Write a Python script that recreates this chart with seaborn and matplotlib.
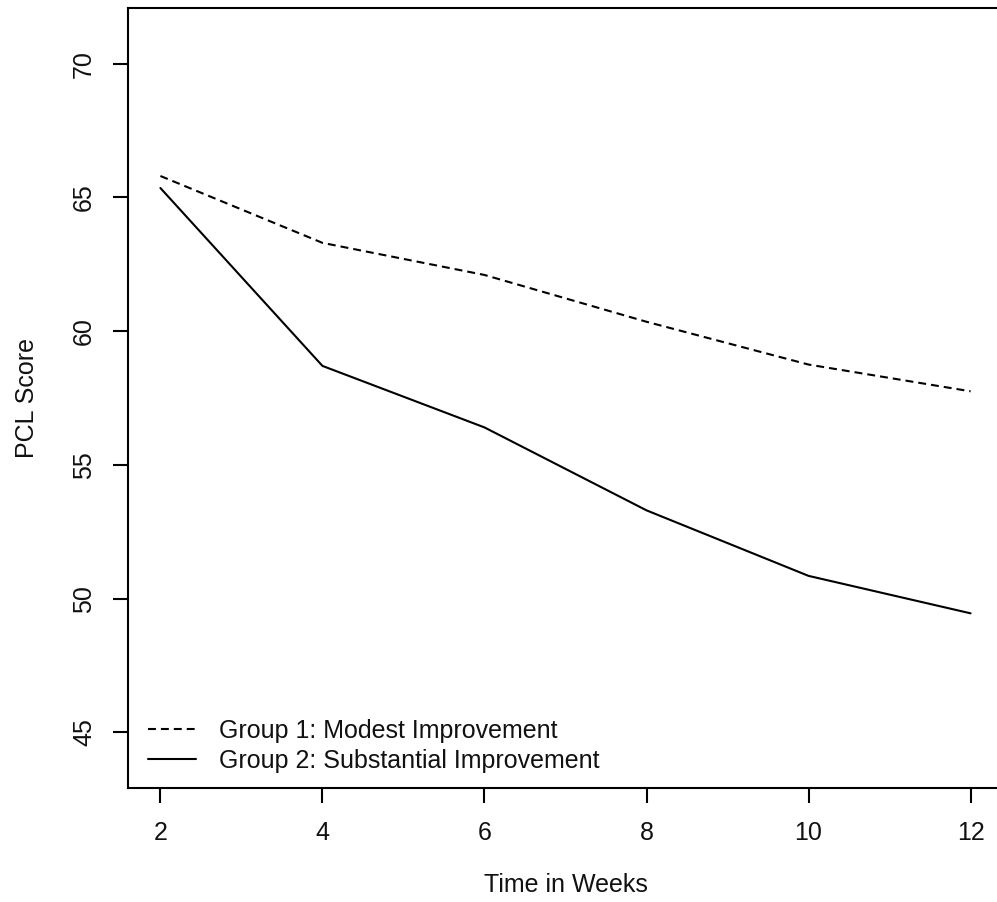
import matplotlib.pyplot as plt
import pandas as pd
import seaborn as sns

weeks = [2, 4, 6, 8, 10, 12]
group1 = [65.8, 63.3, 62.1, 60.35, 58.75, 57.75]
group2 = [65.35, 58.7, 56.4, 53.3, 50.85, 49.45]
labels = ["Group 1: Modest Improvement", "Group 2: Substantial Improvement"]

sns.set_style("white")
plt.rcParams["font.family"] = ["Liberation Sans", "DejaVu Sans"]
plt.rcParams["font.size"] = 18
plt.rcParams["text.color"] = "#111111"
plt.rcParams["axes.labelcolor"] = "#111111"
plt.rcParams["xtick.color"] = "#111111"
plt.rcParams["ytick.color"] = "#111111"

df = pd.concat([
    pd.DataFrame({"week": weeks, "score": group1, "group": labels[0]}),
    pd.DataFrame({"week": weeks, "score": group2, "group": labels[1]}),
])

fig = plt.figure(figsize=(9.97, 9.02), dpi=100)
ax = fig.add_axes([128 / 997, 114 / 902, 875 / 997, 780 / 902])

sns.lineplot(data=df, x="week", y="score", style="group", color="black",
             dashes={labels[0]: (3.8, 2.4), labels[1]: ""},
             linewidth=1.5, ax=ax, legend=False)

ax.set_xlim(1.6, 12.4)
ax.set_ylim(42.92, 72.08)
ax.set_xticks(weeks)
ax.set_yticks([45, 50, 55, 60, 65, 70])
ax.tick_params(direction="out", length=11, width=1.5, color="black",
               labelsize=18, left=True, bottom=True)
ax.tick_params(axis="x", pad=13)
ax.tick_params(axis="y", pad=12)
for t in ax.get_yticklabels():
    t.set_rotation(90)
    t.set_va("center")
for s in ax.spines.values():
    s.set_linewidth(1.5)
    s.set_color("black")

ax.set_xlabel("Time in Weeks", fontsize=18, labelpad=20)
ax.set_ylabel("PCL Score", fontsize=18, labelpad=24)

h1, = ax.plot([], [], color="black", lw=1.5, dashes=(3.8, 2.4))
h2, = ax.plot([], [], color="black", lw=1.5)
ax.legend([h1, h2], labels, frameon=False, loc="lower left",
          bbox_to_anchor=(148 / 997, (902 - 773) / 902),
          bbox_transform=fig.transFigure, borderpad=0, borderaxespad=0,
          handlelength=1.9, handletextpad=0.95, labelspacing=0.25, fontsize=18)

plt.savefig("out.png", dpi=100)
